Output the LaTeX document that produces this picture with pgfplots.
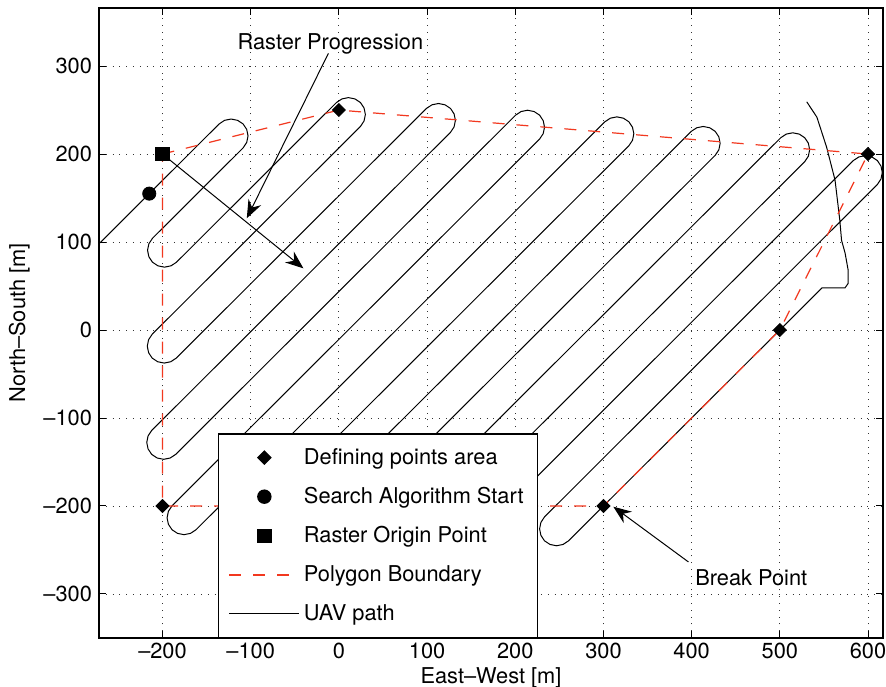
\documentclass[border=0pt]{standalone}
\usepackage{fontspec}
\setmainfont{TeX Gyre Heros}
\usepackage{pgfplots}
\pgfplotsset{compat=1.18}
\usetikzlibrary{arrows.meta}
\definecolor{polyred}{rgb}{0.95,0.22,0.12}

\begin{document}
\begin{tikzpicture}[font=\fontsize{10.9}{13}\selectfont]
\begin{axis}[
  scale only axis, width=392pt, height=315pt,
  xmin=-272, xmax=617, ymin=-350, ymax=366,
  xtick={-200,-100,...,600}, ytick={-300,-200,...,300},
  xticklabels={--200,--100,0,100,200,300,400,500,600},
  yticklabels={--300,--200,--100,0,100,200,300},
  xlabel={East--West [m]}, ylabel={North--South [m]},
  xticklabel style={yshift=1pt},
  xlabel style={yshift=2.5pt},
  grid=major,
  major grid style={black!80, line width=0.4pt, dash pattern=on 0.5pt off 2.9pt},
  axis line style={line width=0.6pt},
  tick style={black, line width=0.5pt}, major tick length=3.5pt,
  tick align=inside,
  legend cell align=left,
  legend style={at={(0.152,0)}, anchor=south west, draw=black, line width=0.6pt,
    fill=white, row sep=6pt, inner xsep=5pt, inner ysep=5pt,
    /tikz/every even column/.append style={column sep=5pt}},
  legend image code/.code={\draw[mark repeat=2,mark phase=2,#1]
    plot coordinates {(0pt,0pt) (17.5pt,0pt) (35pt,0pt)};},
]
% legend entries
\addlegendimage{only marks, mark=square*, mark size=2.3pt, mark options={rotate=45, black}}
\addlegendentry{Defining points area}
\addlegendimage{only marks, mark=*, mark size=3.3pt, mark options={black}}
\addlegendentry{Search Algorithm Start}
\addlegendimage{only marks, mark=square*, mark size=3.3pt, mark options={black}}
\addlegendentry{Raster Origin Point}
\addlegendimage{polyred, line width=0.6pt, dash pattern=on 6pt off 6pt}
\addlegendentry{Polygon Boundary}
\addlegendimage{black, line width=0.5pt}
\addlegendentry{UAV path}

% UAV path
\addplot[black, line width=0.5pt, forget plot] coordinates {
(-280,90)
(-135.8,234.2) (-129.6,238.3) (-122.2,239.8) (-114.8,238.3) (-108.6,234.2) (-104.5,228.0) (-103.0,220.6) (-104.5,213.2) (-108.6,207.0)
(-211.35,104.25) (-215.45,98.05) (-216.95,90.65) (-215.45,83.25) (-211.35,77.05) (-205.15,72.95) (-197.75,71.45) (-190.35,72.95) (-184.15,77.05)
(-2.75,258.55) (3.45,262.65) (10.85,264.15) (18.25,262.65) (24.45,258.55) (28.55,252.35) (30.05,244.95) (28.55,237.55) (24.45,231.35)
(-211.65,-4.75) (-215.75,-10.95) (-217.25,-18.35) (-215.75,-25.75) (-211.65,-31.95) (-205.45,-36.05) (-198.05,-37.55) (-190.65,-36.05) (-184.45,-31.95)
(99.35,251.85) (105.55,255.95) (112.95,257.45) (120.35,255.95) (126.55,251.85) (130.65,245.65) (132.15,238.25) (130.65,230.85) (126.55,224.65)
(-212.25,-114.15) (-216.35,-120.35) (-217.85,-127.75) (-216.35,-135.15) (-212.25,-141.35) (-206.05,-145.45) (-198.65,-146.95) (-191.25,-145.45) (-185.05,-141.35)
(200.4,244.2) (206.6,248.3) (214,249.8) (221.4,248.3) (227.6,244.2) (231.7,238.0) (233.2,230.6) (231.7,223.2) (227.6,217.0)
(-189.2,-199.8) (-193.3,-206.0) (-194.8,-213.4) (-193.3,-220.8) (-189.2,-227.0) (-183.0,-231.1) (-175.6,-232.6) (-168.2,-231.1) (-162.0,-227.0)
(301.65,236.65) (307.85,240.75) (315.25,242.25) (322.65,240.75) (328.85,236.65) (332.95,230.45) (334.45,223.05) (332.95,215.65) (328.85,209.45)
(-83.0,-202.4) (-87.1,-208.6) (-88.6,-216) (-87.1,-223.4) (-83.0,-229.6) (-76.8,-233.7) (-69.4,-235.2) (-62.0,-233.7) (-55.8,-229.6)
(399.55,225.75) (405.75,229.85) (413.15,231.35) (420.55,229.85) (426.75,225.75) (430.85,219.55) (432.35,212.15) (430.85,204.75) (426.75,198.55)
(22.7,-205.4) (18.6,-211.6) (17.1,-219) (18.6,-226.4) (22.7,-232.6) (28.9,-236.7) (36.3,-238.2) (43.7,-236.7) (49.9,-232.6)
(501.05,218.55) (507.25,222.65) (514.65,224.15) (522.05,222.65) (528.25,218.55) (532.35,212.35) (533.85,204.95) (532.35,197.55) (528.25,191.35)
(128.5,-208.4) (124.4,-214.6) (122.9,-222) (124.4,-229.4) (128.5,-235.6) (134.7,-239.7) (142.1,-241.2) (149.5,-239.7) (155.7,-235.6)
(583.4,192.6) (589.6,196.7) (597,198.2) (604.4,196.7) (610.6,192.6) (614.7,186.4) (616.2,179) (614.7,171.6) (610.6,165.4)
(233.2,-212.4) (229.1,-218.6) (227.6,-226) (229.1,-233.4) (233.2,-239.6) (239.4,-243.7) (246.8,-245.2) (254.2,-243.7) (260.4,-239.6)
(548,48) (574,48) (577.5,53) (577.5,68) (574,87.5) (570,102) (568,125) (562.6,170.5) (553,208) (542,242) (530.5,259.4)
};

% polygon boundary
\addplot[polyred, line width=0.6pt, dash pattern=on 6pt off 6pt, forget plot] coordinates {
(-200,200) (0,250) (600,200) (500,0) (300,-200) (-200,-200) (-200,200)
};

% markers
\addplot[only marks, mark=square*, mark size=2.3pt, mark options={rotate=45, black}, forget plot] coordinates {
(0,250) (600,200) (500,0) (300,-200) (-200,-200)
};
\addplot[only marks, mark=*, mark size=3.3pt, mark options={black}, forget plot] coordinates {(-215,155)};
\addplot[only marks, mark=square*, mark size=3.3pt, mark options={black}, forget plot] coordinates {(-200,200)};

% annotations
\draw[line width=0.5pt, -{Stealth[length=9pt, width=7pt, inset=3pt]}] (axis cs:-11.9,314.4) -- (axis cs:-104.4,127);
\draw[line width=0.5pt, -{Stealth[length=9pt, width=7pt, inset=3pt]}] (axis cs:-200,200) -- (axis cs:-40.2,70.1);
\draw[line width=0.5pt, -{Stealth[length=9pt, width=7pt, inset=3pt]}] (axis cs:396.4,-263.6) -- (axis cs:311.2,-200.8);
\node at (axis cs:-9.6,325) {Raster Progression};
\node at (axis cs:467.6,-281) {Break Point};
\end{axis}
\pgfresetboundingbox
\path ([shift={(-49.5pt,-24.5pt)}]current axis.south west) rectangle ([shift={(1.5pt,4pt)}]current axis.north east);
\end{tikzpicture}
\end{document}
